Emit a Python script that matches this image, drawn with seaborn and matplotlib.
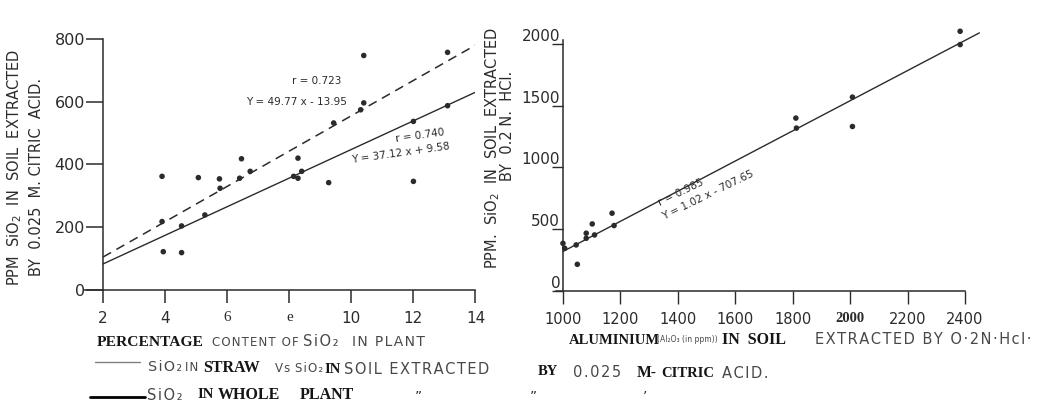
import matplotlib
matplotlib.use("Agg")
import matplotlib.pyplot as plt
import seaborn as sns
import pandas as pd
from matplotlib.lines import Line2D

# left panel: % SiO2 in plant vs ppm SiO2 in soil (0.025 M citric acid)
silica_pct = [3.9, 3.94, 3.9, 4.53, 4.53, 5.07, 5.28, 5.75, 5.77, 6.46, 6.4, 6.74,
              8.28, 8.14, 8.4, 8.28, 9.27, 9.43, 10.4, 10.3, 10.4, 12.0, 12.0, 13.1, 13.1]
silica_ppm = [362, 122, 218, 119, 204, 358, 239, 354, 324, 418, 356, 378,
              420, 362, 378, 356, 342, 532, 747, 574, 596, 537, 346, 587, 757]
whole_x = [2, 14]
whole_y = [105, 780]
straw_x = [2, 14]
straw_y = [83, 630]
left_xticks = [2, 4, 6, 8, 10, 12, 14]
left_xlabels = ["2", "4", "6", "e", "10", "12", "14"]
left_yticks = [0, 200, 400, 600, 800]

# right panel: aluminium vs ppm SiO2 in soil (0.2 N HCl)
alu_ppm = [1000, 1006, 1046, 1050, 1081, 1081, 1102, 1110, 1171, 1178,
           1811, 1813, 2008, 2008, 2383, 2383]
hcl_ppm = [386, 346, 373, 216, 468, 427, 543, 454, 630, 530,
           1400, 1319, 1570, 1332, 2103, 1995]
fit_x = [1000, 2450]
fit_y = [320, 2090]
right_xticks = [1000, 1200, 1400, 1600, 1800, 2000, 2200, 2400]
right_yticks = [0, 500, 1000, 1500, 2000]

ink = "#2b2b2b"
pencil = "#484848"
hand = "DejaVu Sans"
typed = "Liberation Serif"
W, H = 1040, 409

sns.set_style("ticks")
plt.rcParams["font.family"] = [hand]

fig = plt.figure(figsize=(10.4, 4.09), dpi=100)
ax1 = fig.add_axes([0.0812, 0.291, 0.376, 0.614])
ax2 = fig.add_axes([0.5344, 0.2885, 0.3935, 0.613])
renderer = fig.canvas.get_renderer()


def put(x, y, s, **kw):
    # place text by pixel position measured from the top-left corner
    kw.setdefault("color", ink)
    kw.setdefault("va", "center")
    return fig.text(x / W, 1 - y / H, s, **kw)


def fit(x0, x1, y, s, kind):
    # lettering sized to the span it takes in the scan (within limits)
    if kind == "hand":
        t = put(x0, y, "\u200a".join(s), family=hand, fontsize=10, color=pencil)
        lo, hi = 8.5, 10.5
    else:
        t = put(x0, y, s, family=typed, weight="bold", fontsize=10, color="#151515")
        lo, hi = 10.5, 11.5
    w = t.get_window_extent(renderer).width
    t.set_fontsize(max(lo, min(10 * (x1 - x0) / w, hi)))
    return t


# ---- left
left = pd.DataFrame({"x": silica_pct, "y": silica_ppm})
sns.scatterplot(data=left, x="x", y="y", ax=ax1, color=ink, s=16, edgecolor="none")
sns.lineplot(x=whole_x, y=whole_y, ax=ax1, color=ink, lw=1.1, linestyle=(0, (6, 4)))
sns.lineplot(x=straw_x, y=straw_y, ax=ax1, color=ink, lw=1.0)
ax1.set_xlim(1.4, 14)
ax1.set_ylim(0, 800)
ax1.spines["left"].set_position(("data", 2))
ax1.set_xticks(left_xticks)
ax1.set_xticklabels(left_xlabels)
ax1.set_yticks(left_yticks)
for lab in ax1.get_xticklabels():
    if lab.get_text() in ("6", "e"):
        lab.set_family(typed)
        lab.set_fontsize(14)
ax1.tick_params(axis="y", length=12, width=1.1, colors=ink, labelsize=11.5, pad=1)
ax1.tick_params(axis="x", length=9, width=1.1, colors=ink, labelsize=11, pad=6)
ax1.set_xlabel("")
ax1.set_ylabel("")
ax1.text(8.1, 655, "r = 0.723", fontsize=7.5, color=ink)
ax1.text(6.6, 588, "Y = 49.77 x - 13.95", fontsize=7.5, color=ink)
ax1.text(11.4, 470, "r = 0.740", fontsize=7.5, color=ink, rotation=8)
ax1.text(10.0, 405, "Y = 37.12 x + 9.58", fontsize=7.5, color=ink, rotation=8)

# ---- right
right = pd.DataFrame({"x": alu_ppm, "y": hcl_ppm})
sns.scatterplot(data=right, x="x", y="y", ax=ax2, color=ink, s=16, edgecolor="none",
                clip_on=False)
sns.lineplot(x=fit_x, y=fit_y, ax=ax2, color=ink, lw=1.0)
for ln in ax2.lines:
    ln.set_clip_on(False)
ax2.set_xlim(975, 2400)
ax2.set_ylim(0, 2030)
ax2.spines["left"].set_position(("data", 1000))
ax2.set_xticks(right_xticks)
ax2.set_yticks(right_yticks)
for lab in ax2.get_xticklabels():
    if lab.get_text() == "2000":
        lab.set_family(typed)
        lab.set_fontsize(11)
        lab.set_weight("bold")
ax2.tick_params(axis="y", length=8, width=1.0, colors=ink, labelsize=11, pad=-6)
ax2.tick_params(axis="x", length=9, width=1.0, colors=ink, labelsize=10.5, pad=6)
for lab in ax2.get_yticklabels():
    lab.set_va("bottom")
ax2.set_xlabel("")
ax2.set_ylabel("")
ax2.text(1325, 690, "r = 0.985", fontsize=7.5, color=ink, rotation=26)
ax2.text(1340, 575, "Y = 1.02 x - 707.65", fontsize=7.5, color=ink, rotation=26)

for a in (ax1, ax2):
    sns.despine(ax=a)
    for side in ("left", "bottom"):
        a.spines[side].set_color(ink)
        a.spines[side].set_linewidth(1.1)

# ---- y titles
put(15, 167, "PPM  SiO$_2$  IN  SOIL  EXTRACTED", rotation=90, ha="center",
    family=hand, fontsize=10.5)
put(37, 177, "BY  0.025  M. CITRIC  ACID.", rotation=90, ha="center",
    family=hand, fontsize=10.5)
put(493, 148, "PPM.  SiO$_2$  IN  SOIL  EXTRACTED", rotation=90, ha="center",
    family=hand, fontsize=10.5)
put(508, 126, "BY  0.2 N.  HCl.", rotation=90, ha="center",
    family=hand, fontsize=10.5)

# ---- x titles
fit(97, 203, 343, "PERCENTAGE", "typed")
fit(212, 295, 342, "CONTENT OF", "hand")
fit(303, 343, 341, "SiO₂", "hand")
fit(352, 425, 342, "IN PLANT", "hand")

fit(569, 653, 340, "ALUMINIUM", "typed")
put(657, 340, "(Al₂O₃ (in ppm))", family=hand, fontsize=5.5, color=pencil)
fit(722, 807, 340, "IN  SOIL", "typed")
fit(815, 1030, 340, "EXTRACTED BY O·2N·Hcl·", "hand")

# ---- key at the foot
fig.add_artist(Line2D([95 / W, 140 / W], [1 - 362 / H] * 2, color="#808080", lw=1.0))
fig.add_artist(Line2D([90 / W, 145 / W], [1 - 397 / H] * 2, color="black", lw=2.0))

row1 = [(148, 182, "SiO₂", "hand"),
        (185, 198, "IN", "hand"),
        (203, 268, "STRAW", "typed"),
        (275, 290, "Vs", "hand"),
        (295, 317, "SiO₂", "hand"),
        (324, 337, "IN", "typed"),
        (344, 533, "SOIL EXTRACTED", "hand"),
        (538, 556, "BY", "typed"),
        (573, 628, "0.025", "hand"),
        (637, 657, "M-", "typed"),
        (661, 713, "CITRIC", "typed"),
        (722, 780, "ACID.", "hand")]
for x0, x1, s, kind in row1:
    fit(x0, x1, 367 + (x0 - 148) * 0.012, s, kind)

row2 = [(147, 190, "SiO₂", "hand"),
        (197, 210, "IN", "typed"),
        (218, 287, "WHOLE", "typed"),
        (300, 373, "PLANT", "typed")]
for x0, x1, s, kind in row2:
    fit(x0, x1, 395, s, kind)

put(415, 397, "\u201d", fontsize=10)
put(530, 397, "\u201d", fontsize=10)
put(643, 397, "\u2019", fontsize=10)

fig.savefig("out.png", dpi=100, facecolor="white")
